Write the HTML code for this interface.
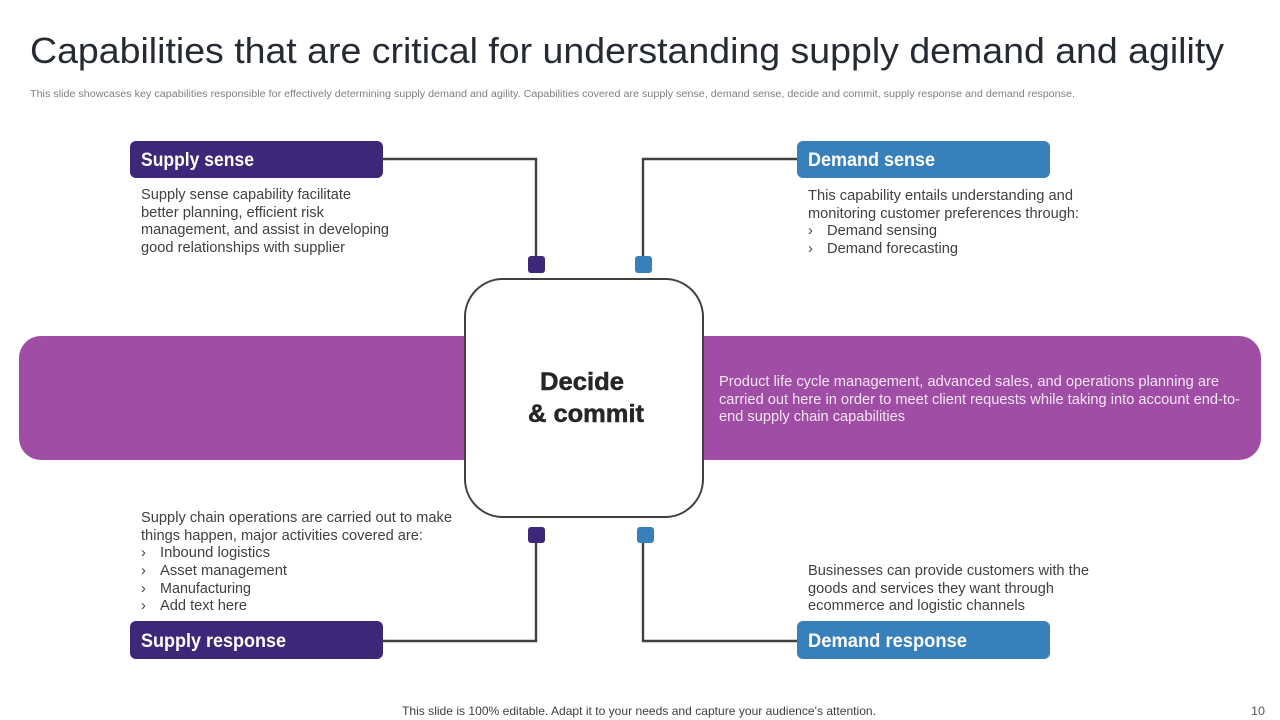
<!DOCTYPE html>
<html><head><meta charset="utf-8"><style>
html,body{margin:0;padding:0;background:#fff;width:1280px;height:720px;overflow:hidden}
svg{display:block}
text{font-family:"Liberation Sans",sans-serif;white-space:pre}
.b{font-size:14.4px;fill:#404040}
.h{font-size:19px;font-weight:bold;fill:#fff}
.w{font-size:14.4px;fill:#f3e6f3}
.c{font-size:25px;font-weight:bold;fill:#262626;stroke:#262626;stroke-width:.5px}
</style></head><body>
<svg width="1280" height="720" viewBox="0 0 1280 720" xmlns="http://www.w3.org/2000/svg">
<rect width="1280" height="720" fill="#fff"/>
<text x="30" y="63" font-size="36" fill="#262b33" textLength="1194" lengthAdjust="spacingAndGlyphs">Capabilities that are critical for understanding supply demand and agility</text>
<text x="30" y="97" font-size="10" fill="#7f7f7f" textLength="1045" lengthAdjust="spacingAndGlyphs">This slide showcases key capabilities responsible for effectively determining supply demand and agility. Capabilities covered are supply sense, demand sense, decide and commit, supply response and demand response.</text>

<rect x="19" y="336" width="1242" height="124" rx="22" fill="#a04da5"/>

<g fill="none" stroke="#404040" stroke-width="2.4">
<path d="M383 159H536V258"/>
<path d="M797 159H643V258"/>
<path d="M383 641H536V540"/>
<path d="M797 641H643V540"/>
<rect x="465" y="279" width="238" height="238" rx="38" fill="#fff" stroke-width="2"/>
</g>

<rect x="528" y="256" width="17" height="17" rx="3" fill="#3d2779"/>
<rect x="635" y="256" width="17" height="17" rx="3" fill="#3880bb"/>
<rect x="528" y="527" width="17" height="16" rx="3" fill="#3d2779"/>
<rect x="637" y="527" width="17" height="16" rx="3" fill="#3880bb"/>

<rect x="130" y="141" width="253" height="37" rx="6" fill="#3d2779"/>
<rect x="797" y="141" width="253" height="37" rx="6" fill="#3880bb"/>
<rect x="130" y="621" width="253" height="38" rx="6" fill="#3d2779"/>
<rect x="797" y="621" width="253" height="38" rx="6" fill="#3880bb"/>

<text class="h" x="141" y="166" textLength="113" lengthAdjust="spacingAndGlyphs">Supply sense</text>
<text class="h" x="808" y="166" textLength="127" lengthAdjust="spacingAndGlyphs">Demand sense</text>
<text class="h" x="141" y="647" textLength="145" lengthAdjust="spacingAndGlyphs">Supply response</text>
<text class="h" x="808" y="647" textLength="159" lengthAdjust="spacingAndGlyphs">Demand response</text>

<text class="b" x="141" y="199" textLength="210" lengthAdjust="spacingAndGlyphs">Supply sense capability facilitate</text>
<text class="b" x="141" y="217" textLength="183" lengthAdjust="spacingAndGlyphs">better planning, efficient risk</text>
<text class="b" x="141" y="234" textLength="248" lengthAdjust="spacingAndGlyphs">management, and assist in developing</text>
<text class="b" x="141" y="252" textLength="204" lengthAdjust="spacingAndGlyphs">good relationships with supplier</text>

<text class="b" x="808" y="200" textLength="265" lengthAdjust="spacingAndGlyphs">This capability entails understanding and</text>
<text class="b" x="808" y="218" textLength="271" lengthAdjust="spacingAndGlyphs">monitoring customer preferences through:</text>
<text class="b" x="808" y="235">›</text>
<text class="b" x="827" y="235" textLength="110" lengthAdjust="spacingAndGlyphs">Demand sensing</text>
<text class="b" x="808" y="253">›</text>
<text class="b" x="827" y="253" textLength="131" lengthAdjust="spacingAndGlyphs">Demand forecasting</text>

<text class="c" x="540" y="390" textLength="84" lengthAdjust="spacingAndGlyphs">Decide</text>
<text class="c" x="528" y="422" textLength="116" lengthAdjust="spacingAndGlyphs">&amp; commit</text>

<text class="w" x="719" y="386" textLength="500" lengthAdjust="spacingAndGlyphs">Product life cycle management, advanced sales, and operations planning are</text>
<text class="w" x="719" y="404" textLength="521" lengthAdjust="spacingAndGlyphs">carried out here in order to meet client requests while taking into account end-to-</text>
<text class="w" x="719" y="421" textLength="186" lengthAdjust="spacingAndGlyphs">end supply chain capabilities</text>

<text class="b" x="141" y="522" textLength="311" lengthAdjust="spacingAndGlyphs">Supply chain operations are carried out to make</text>
<text class="b" x="141" y="540" textLength="282" lengthAdjust="spacingAndGlyphs">things happen, major activities covered are:</text>
<text class="b" x="141" y="557">›</text>
<text class="b" x="160" y="557" textLength="110" lengthAdjust="spacingAndGlyphs">Inbound logistics</text>
<text class="b" x="141" y="575">›</text>
<text class="b" x="160" y="575" textLength="127" lengthAdjust="spacingAndGlyphs">Asset management</text>
<text class="b" x="141" y="593">›</text>
<text class="b" x="160" y="593" textLength="91" lengthAdjust="spacingAndGlyphs">Manufacturing</text>
<text class="b" x="141" y="610">›</text>
<text class="b" x="160" y="610" textLength="87" lengthAdjust="spacingAndGlyphs">Add text here</text>

<text class="b" x="808" y="575" textLength="281" lengthAdjust="spacingAndGlyphs">Businesses can provide customers with the</text>
<text class="b" x="808" y="593" textLength="246" lengthAdjust="spacingAndGlyphs">goods and services they want through</text>
<text class="b" x="808" y="610" textLength="217" lengthAdjust="spacingAndGlyphs">ecommerce and logistic channels</text>

<text x="402" y="715" font-size="12" fill="#404040" textLength="474" lengthAdjust="spacingAndGlyphs">This slide is 100% editable. Adapt it to your needs and capture your audience's attention.</text>
<text x="1251" y="715" font-size="12" fill="#595959" textLength="14" lengthAdjust="spacingAndGlyphs">10</text>
</svg>
</body></html>
